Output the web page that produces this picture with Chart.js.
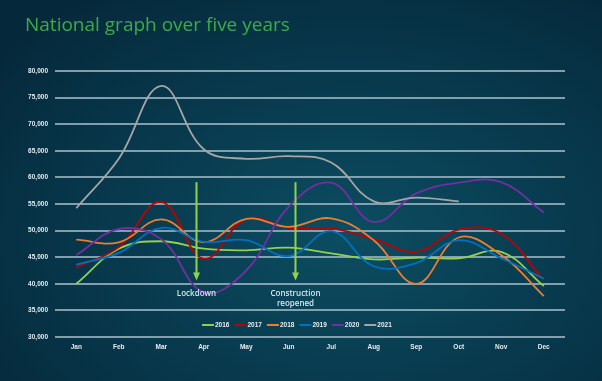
<!DOCTYPE html>
<html><head><meta charset="utf-8">
<script src="https://cdn.jsdelivr.net/npm/chart.js@4"></script>
<style>
html,body{margin:0;padding:0;}
body{width:602px;height:381px;overflow:hidden;background:radial-gradient(ellipse 75% 80% at 58% 62%, #0c4d61 0%, #083a4e 50%, #05283a 100%);}
#wrap{position:relative;width:602px;height:381px;}
</style></head><body>
<div id="wrap"><canvas id="c" width="602" height="381"></canvas></div>
<script>
const titleText = 'National graph over five years';
const months = ['Jan','Feb','Mar','Apr','May','Jun','Jul','Aug','Sep','Oct','Nov','Dec'];
const seriesNames = ['2016','2017','2018','2019','2020','2021'];
const seriesColors = ['#92d050','#c00000','#ed7d31','#0070c0','#7030a0','#a6a6a6'];
const v2016 = [40000,46600,48000,46600,46300,46800,45700,44600,44900,44800,46000,39600];
const v2017 = [43100,46900,55400,44700,52200,50500,50400,48400,46000,50200,49400,40700];
const v2018 = [48300,47800,52100,47800,52200,50700,52300,48200,40000,48700,45400,37700];
const v2019 = [43600,45800,50500,47900,48200,45200,49900,43300,43900,48200,44800,41000];
const v2020 = [45400,50300,48400,38400,42500,54500,59000,51600,57000,59000,59100,53400];
const v2021 = [54200,63500,77200,65300,63500,64000,62800,55500,56200,55500,null,null];
const yMin = 30000, yMax = 80000, yStep = 5000;
const annotationPos = [2.82, 5.14];
const annotationLabels = [['Lockdown'], ['Construction','reopened']];
const arrowFrom = 59100, arrowTo = 40600, labelAt = 38050;

const allValues = [v2016, v2017, v2018, v2019, v2020, v2021];

const datasets = allValues.map((vals, i) => ({
  label: seriesNames[i],
  data: vals,
  borderColor: seriesColors[i],
  backgroundColor: seriesColors[i],
  borderWidth: 1.8,
  pointRadius: 0,
  tension: 0.4,
  fill: false,
  spanGaps: false,
  order: allValues.length - i
}));

const titlePlugin = {
  id: 'titleText',
  afterDraw(chart) {
    const ctx = chart.ctx;
    ctx.save();
    ctx.fillStyle = '#3aad47';
    ctx.font = '19px "Open Sans"';
    ctx.textBaseline = 'middle';
    ctx.textAlign = 'left';
    ctx.fillText(titleText, 25, 26);
    ctx.restore();
  }
};

const annotPlugin = {
  id: 'annot',
  afterDatasetsDraw(chart) {
    const ctx = chart.ctx;
    const xs = chart.scales.x, ys = chart.scales.y;
    const yTop = ys.getPixelForValue(arrowFrom);
    const yTip = ys.getPixelForValue(arrowTo);
    const yLab = ys.getPixelForValue(labelAt);
    ctx.save();
    annotationPos.forEach((p, k) => {
      const x = Math.round(xs.getPixelForValue(p)) + 0.5;
      ctx.strokeStyle = '#92d050';
      ctx.fillStyle = '#92d050';
      ctx.lineWidth = 2;
      ctx.beginPath();
      ctx.moveTo(x, yTop);
      ctx.lineTo(x, yTip - 6);
      ctx.stroke();
      ctx.beginPath();
      ctx.moveTo(x, yTip);
      ctx.lineTo(x - 3.5, yTip - 8);
      ctx.lineTo(x + 3.5, yTip - 8);
      ctx.closePath();
      ctx.fill();
      ctx.fillStyle = '#d5e7ee';
      ctx.font = '600 8px "Open Sans"';
      ctx.textAlign = 'center';
      ctx.textBaseline = 'middle';
      annotationLabels[k].forEach((t, j) => {
        ctx.fillText(t, x, yLab + j * 10);
      });
    });
    ctx.restore();
  }
};

const legendPlugin = {
  id: 'legendInside',
  afterDraw(chart) {
    const ctx = chart.ctx;
    const ca = chart.chartArea;
    const ys = chart.scales.y;
    const y = Math.round(ys.getPixelForValue(32300));
    let x = ca.left + 147;
    ctx.save();
    ctx.font = 'bold 6.5px "Liberation Sans"';
    ctx.textBaseline = 'middle';
    ctx.textAlign = 'left';
    chart.data.datasets.forEach(ds => {
      ctx.strokeStyle = ds.borderColor;
      ctx.lineWidth = 2;
      ctx.beginPath();
      ctx.moveTo(x, y);
      ctx.lineTo(x + 12, y);
      ctx.stroke();
      ctx.fillStyle = '#e6eef2';
      ctx.fillText(ds.label, x + 13, y + 0.5);
      x += 13 + ctx.measureText(ds.label).width + 5;
    });
    ctx.restore();
  }
};

new Chart(document.getElementById('c'), {
  type: 'line',
  data: { labels: months, datasets },
  options: {
    responsive: false,
    animation: false,
    devicePixelRatio: 1,
    layout: { padding: { left: 10, right: 37, top: 71, bottom: 0 } },
    plugins: { legend: { display: false }, title: { display: false }, tooltip: { enabled: false } },
    scales: {
      x: {
        type: 'category',
        offset: true,
        grid: { display: false, drawTicks: false },
        border: { display: false },
        ticks: { color: '#e3ecf0', font: { family: 'Liberation Sans', size: 6.5, weight: 'bold' }, padding: 6, maxRotation: 0, autoSkip: false },
        afterFit(s) { s.height = 44; }
      },
      y: {
        min: yMin, max: yMax,
        grid: { color: 'rgba(150,178,190,0.85)', lineWidth: 2, drawTicks: false },
        border: { display: false },
        ticks: { stepSize: yStep, color: '#e3ecf0', font: { family: 'Liberation Sans', size: 6.5, weight: 'bold' }, padding: 7,
          callback: v => v.toLocaleString('en-US') },
        afterFit(s) { s.width = 45; }
      }
    }
  },
  plugins: [titlePlugin, annotPlugin, legendPlugin]
});
</script>
</body></html>
